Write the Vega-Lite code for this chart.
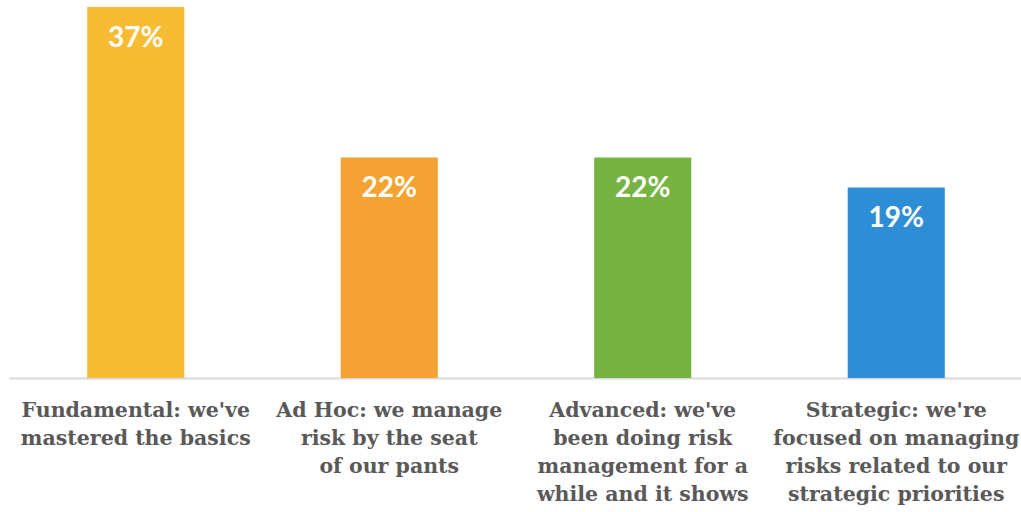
{
  "$schema": "https://vega.github.io/schema/vega-lite/v6.json",
  "width": 1014,
  "height": 371,
  "autosize": {"type": "none"},
  "padding": {"left": 9, "top": 7, "right": 0, "bottom": 134},
  "background": "white",
  "data": {"values": [
    {"cat": "Fundamental: we've|mastered the basics", "pct": 0.37, "color": "#F7BC34"},
    {"cat": "Ad Hoc: we manage|risk by the seat|of our pants", "pct": 0.22, "color": "#F4A332"},
    {"cat": "Advanced: we've|been doing risk|management for a|while and it shows", "pct": 0.22, "color": "#76B342"},
    {"cat": "Strategic: we're|focused on managing|risks related to our|strategic priorities", "pct": 0.19, "color": "#2E8ED5"}
  ]},
  "config": {"view": {"stroke": null}},
  "encoding": {
    "x": {"field": "cat", "type": "nominal", "sort": null,
      "scale": {"paddingInner": 0.617, "paddingOuter": 0.3085},
      "axis": {"title": null, "labelAngle": 0, "labelExpr": "split(datum.label, '|')",
        "labelFont": "DejaVu Serif", "labelFontWeight": "bold", "labelFontSize": 20.5, "labelColor": "#595959",
        "labelLineHeight": 28, "labelPadding": 22, "ticks": false, "domainColor": "#D9D9D9", "domainWidth": 2, "labelLimit": 0, "labelBaseline": "top"}},
    "y": {"field": "pct", "type": "quantitative", "scale": {"domain": [0, 0.37], "nice": false}, "axis": null}
  },
  "layer": [
    {"mark": {"type": "bar"}, "encoding": {"color": {"field": "color", "type": "nominal", "scale": null}}},
    {"mark": {"type": "text", "baseline": "middle", "dy": 32, "font": "Lato", "fontWeight": "bold", "fontSize": 28, "color": "white"},
     "encoding": {"text": {"field": "pct", "type": "quantitative", "format": ".0%"}}}
  ]
}
